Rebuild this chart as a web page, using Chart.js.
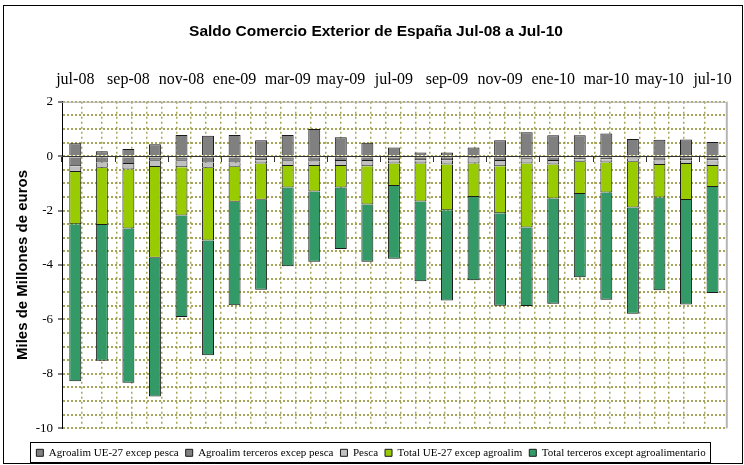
<!DOCTYPE html>
<html>
<head>
<meta charset="utf-8">
<script src="https://cdn.jsdelivr.net/npm/chart.js@4"></script>
<style>
  body { margin: 0; background: #fff; }
  #wrap { width: 744px; height: 465px; }
</style>
</head>
<body>
<div id="wrap"><canvas id="chart" width="744" height="465"></canvas></div>
<script>
// Saldo comercio exterior, miles de millones de euros
const months = ["jul-08", "ago-08", "sep-08", "oct-08", "nov-08", "dic-08",
  "ene-09", "feb-09", "mar-09", "abr-09", "may-09", "jun-09", "jul-09",
  "ago-09", "sep-09", "oct-09", "nov-09", "dic-09", "ene-10", "feb-10",
  "mar-10", "abr-10", "may-10", "jun-10", "jul-10"];

const agroUE = [0.47, 0.18, 0.26, 0.44, 0.78, 0.75, 0.78, 0.58, 0.78, 1.00, 0.69, 0.49, 0.32,
  0.13, 0.13, 0.32, 0.58, 0.88, 0.77, 0.77, 0.83, 0.63, 0.60, 0.61, 0.52];
const agroTerceros = [-0.37, -0.23, -0.29, -0.17, -0.17, -0.23, -0.23, -0.15, -0.17, -0.20, -0.18, -0.18, -0.15,
  -0.15, -0.15, -0.07, -0.18, -0.10, -0.18, -0.11, -0.11, -0.09, -0.16, -0.15, -0.15];
const pesca = [-0.21, -0.20, -0.20, -0.23, -0.24, -0.20, -0.16, -0.12, -0.19, -0.16, -0.18, -0.19, -0.12,
  -0.12, -0.16, -0.20, -0.19, -0.17, -0.13, -0.10, -0.12, -0.12, -0.17, -0.14, -0.21];
const totalUE = [-1.92, -2.10, -2.17, -3.33, -1.77, -2.67, -1.29, -1.33, -0.79, -0.94, -0.79, -1.41, -0.83,
  -1.40, -1.68, -1.23, -1.73, -2.35, -1.25, -1.18, -1.11, -1.68, -1.19, -1.32, -0.77];
const totalTerceros = [-5.77, -4.99, -5.67, -5.10, -3.73, -4.22, -3.80, -3.31, -2.90, -2.58, -2.26, -2.10, -2.67,
  -2.93, -3.31, -3.06, -3.40, -2.89, -3.86, -3.06, -3.94, -3.90, -3.41, -3.84, -3.90];

const yMin = -10;
const yMax = 2;

const serif = "'Liberation Serif', 'Times New Roman', serif";
const sans = "'Liberation Sans', Arial, sans-serif";
const gridColor = "rgba(150, 150, 60, 0.85)";

Chart.defaults.font.family = sans;
Chart.defaults.color = "#000";

function serie(label, data, color) {
  return {
    label: label,
    data: data,
    backgroundColor: color,
    borderColor: "#1a1a1a",
    borderWidth: 1,
    xAxisID: "x",
    yAxisID: "y",
    categoryPercentage: 1,
    barPercentage: 0.45,
  };
}

// marco exterior, bordes del area de trazado y caja de la leyenda
const framePlugin = {
  id: "frame",
  beforeDraw(chart) {
    const ctx = chart.ctx;
    ctx.save();
    ctx.fillStyle = "#fff";
    ctx.fillRect(0, 0, chart.width, chart.height);
    ctx.restore();
  },
  afterLayout(chart) {
    // leyenda mas abajo y titulo algo a la derecha, como en el original
    chart.legend.top += 12;
    chart.legend.bottom += 12;
    chart.legend.left += 6;
    chart.legend.right += 6;
    chart.titleBlock.left += 11;
    chart.titleBlock.right += 11;
  },
  afterDraw(chart) {
    const { ctx, chartArea } = chart;
    ctx.save();
    ctx.strokeStyle = "#000";
    ctx.lineWidth = 1;
    ctx.strokeRect(3.5, 5.5, 739, 458);

    ctx.strokeStyle = "#b5b5b5";
    ctx.lineWidth = 1;
    ctx.beginPath();
    ctx.moveTo(chartArea.left, chartArea.top + 0.5);
    ctx.lineTo(chartArea.right, chartArea.top + 0.5);
    ctx.stroke();
    ctx.lineWidth = 2;
    ctx.beginPath();
    ctx.moveTo(chartArea.right + 1, chartArea.top);
    ctx.lineTo(chartArea.right + 1, chartArea.bottom);
    ctx.stroke();

    const boxes = chart.legend.legendHitBoxes;
    if (boxes && boxes.length) {
      const l = Math.min(...boxes.map((b) => b.left));
      const r = Math.max(...boxes.map((b) => b.left + b.width));
      const t = Math.min(...boxes.map((b) => b.top));
      const bt = Math.max(...boxes.map((b) => b.top + b.height));
      ctx.strokeStyle = "#000";
      ctx.lineWidth = 1;
      ctx.strokeRect(Math.round(l - 6) + 0.5, Math.round(t - 5) + 0.5,
        Math.round(r - l + 11), Math.round(bt - t + 9));
    }
    ctx.restore();
  },
};

new Chart(document.getElementById("chart"), {
  type: "bar",
  data: {
    labels: months,
    datasets: [
      serie("Agroalim UE-27 excep pesca", agroUE, "#808080"),
      serie("Agroalim terceros excep pesca", agroTerceros, "#808080"),
      serie("Pesca", pesca, "#c0c0c0"),
      serie("Total UE-27 excep agroalim", totalUE, "#99cc00"),
      serie("Total terceros except agroalimentario", totalTerceros, "#339966"),
    ],
  },
  options: {
    responsive: false,
    devicePixelRatio: 1,
    animation: false,
    layout: { padding: { left: 4, right: 18, top: 0, bottom: 8.7 } },
    plugins: {
      title: {
        display: true,
        text: "Saldo Comercio Exterior de España Jul-08 a Jul-10",
        font: { family: sans, size: 15.5, weight: "bold" },
        color: "#000",
        padding: { top: 22.4, bottom: 0 },
      },
      legend: {
        position: "bottom",
        labels: {
          boxWidth: 7,
          boxHeight: 7,
          padding: 7,
          font: { family: serif, size: 11 },
          color: "#000",
        },
      },
      tooltip: { enabled: false },
    },
    scales: {
      x: {
        type: "category",
        position: "top",
        stacked: true,
        offset: true,
        grid: { display: false, drawTicks: false },
        border: { display: false },
        ticks: {
          autoSkip: false,
          maxRotation: 0,
          padding: 12,
          font: { family: serif, size: 16 },
          color: "#000",
          callback: function (value, index) {
            return index % 2 === 0 ? this.getLabelForValue(value) : "";
          },
        },
        afterFit: (scale) => { scale.height = 60.7; },
      },
      // eje en el cero con marcas cada dos meses
      xz: {
        type: "category",
        position: { y: 0 },
        offset: true,
        grid: {
          display: true,
          drawOnChartArea: false,
          drawTicks: true,
          tickLength: 5,
          tickWidth: 1,
          tickColor: (c) => (c.index % 2 === 0 ? "#333" : "rgba(0,0,0,0)"),
        },
        border: { display: true, color: "#333", width: 1, z: 1 },
        ticks: { display: false, autoSkip: false },
      },
      // trama punteada vertical del fondo
      xg: {
        type: "linear",
        position: "bottom",
        min: -0.634,
        max: 42.77,
        grid: { display: true, drawTicks: false, color: gridColor, lineWidth: 1.5 },
        border: { display: false, dash: [2, 3] },
        ticks: { display: false, stepSize: 1, autoSkip: false },
        afterFit: (scale) => { scale.height = 0; },
      },
      y: {
        type: "linear",
        position: "left",
        stacked: true,
        min: yMin,
        max: yMax,
        grid: {
          color: gridColor,
          lineWidth: 2,
          drawTicks: true,
          tickLength: 4,
          tickWidth: 1,
          tickColor: (c) => (c.tick && c.tick.value % 2 === 0 ? "#000" : "rgba(0,0,0,0)"),
        },
        border: { display: true, color: "#000", width: 1, dash: [2, 2] },
        ticks: {
          stepSize: 0.5,
          autoSkip: false,
          padding: 5,
          font: { family: serif, size: 13 },
          color: "#000",
          callback: (v) => (v % 2 === 0 ? String(v) : ""),
        },
        title: {
          display: true,
          text: "Miles de Millones de euros",
          font: { family: sans, size: 15, weight: "bold" },
          color: "#000",
          padding: { top: 10, bottom: 0 },
        },
        afterFit: (scale) => { scale.width = 58; },
      },
    },
  },
  plugins: [framePlugin],
});
</script>
</body>
</html>
